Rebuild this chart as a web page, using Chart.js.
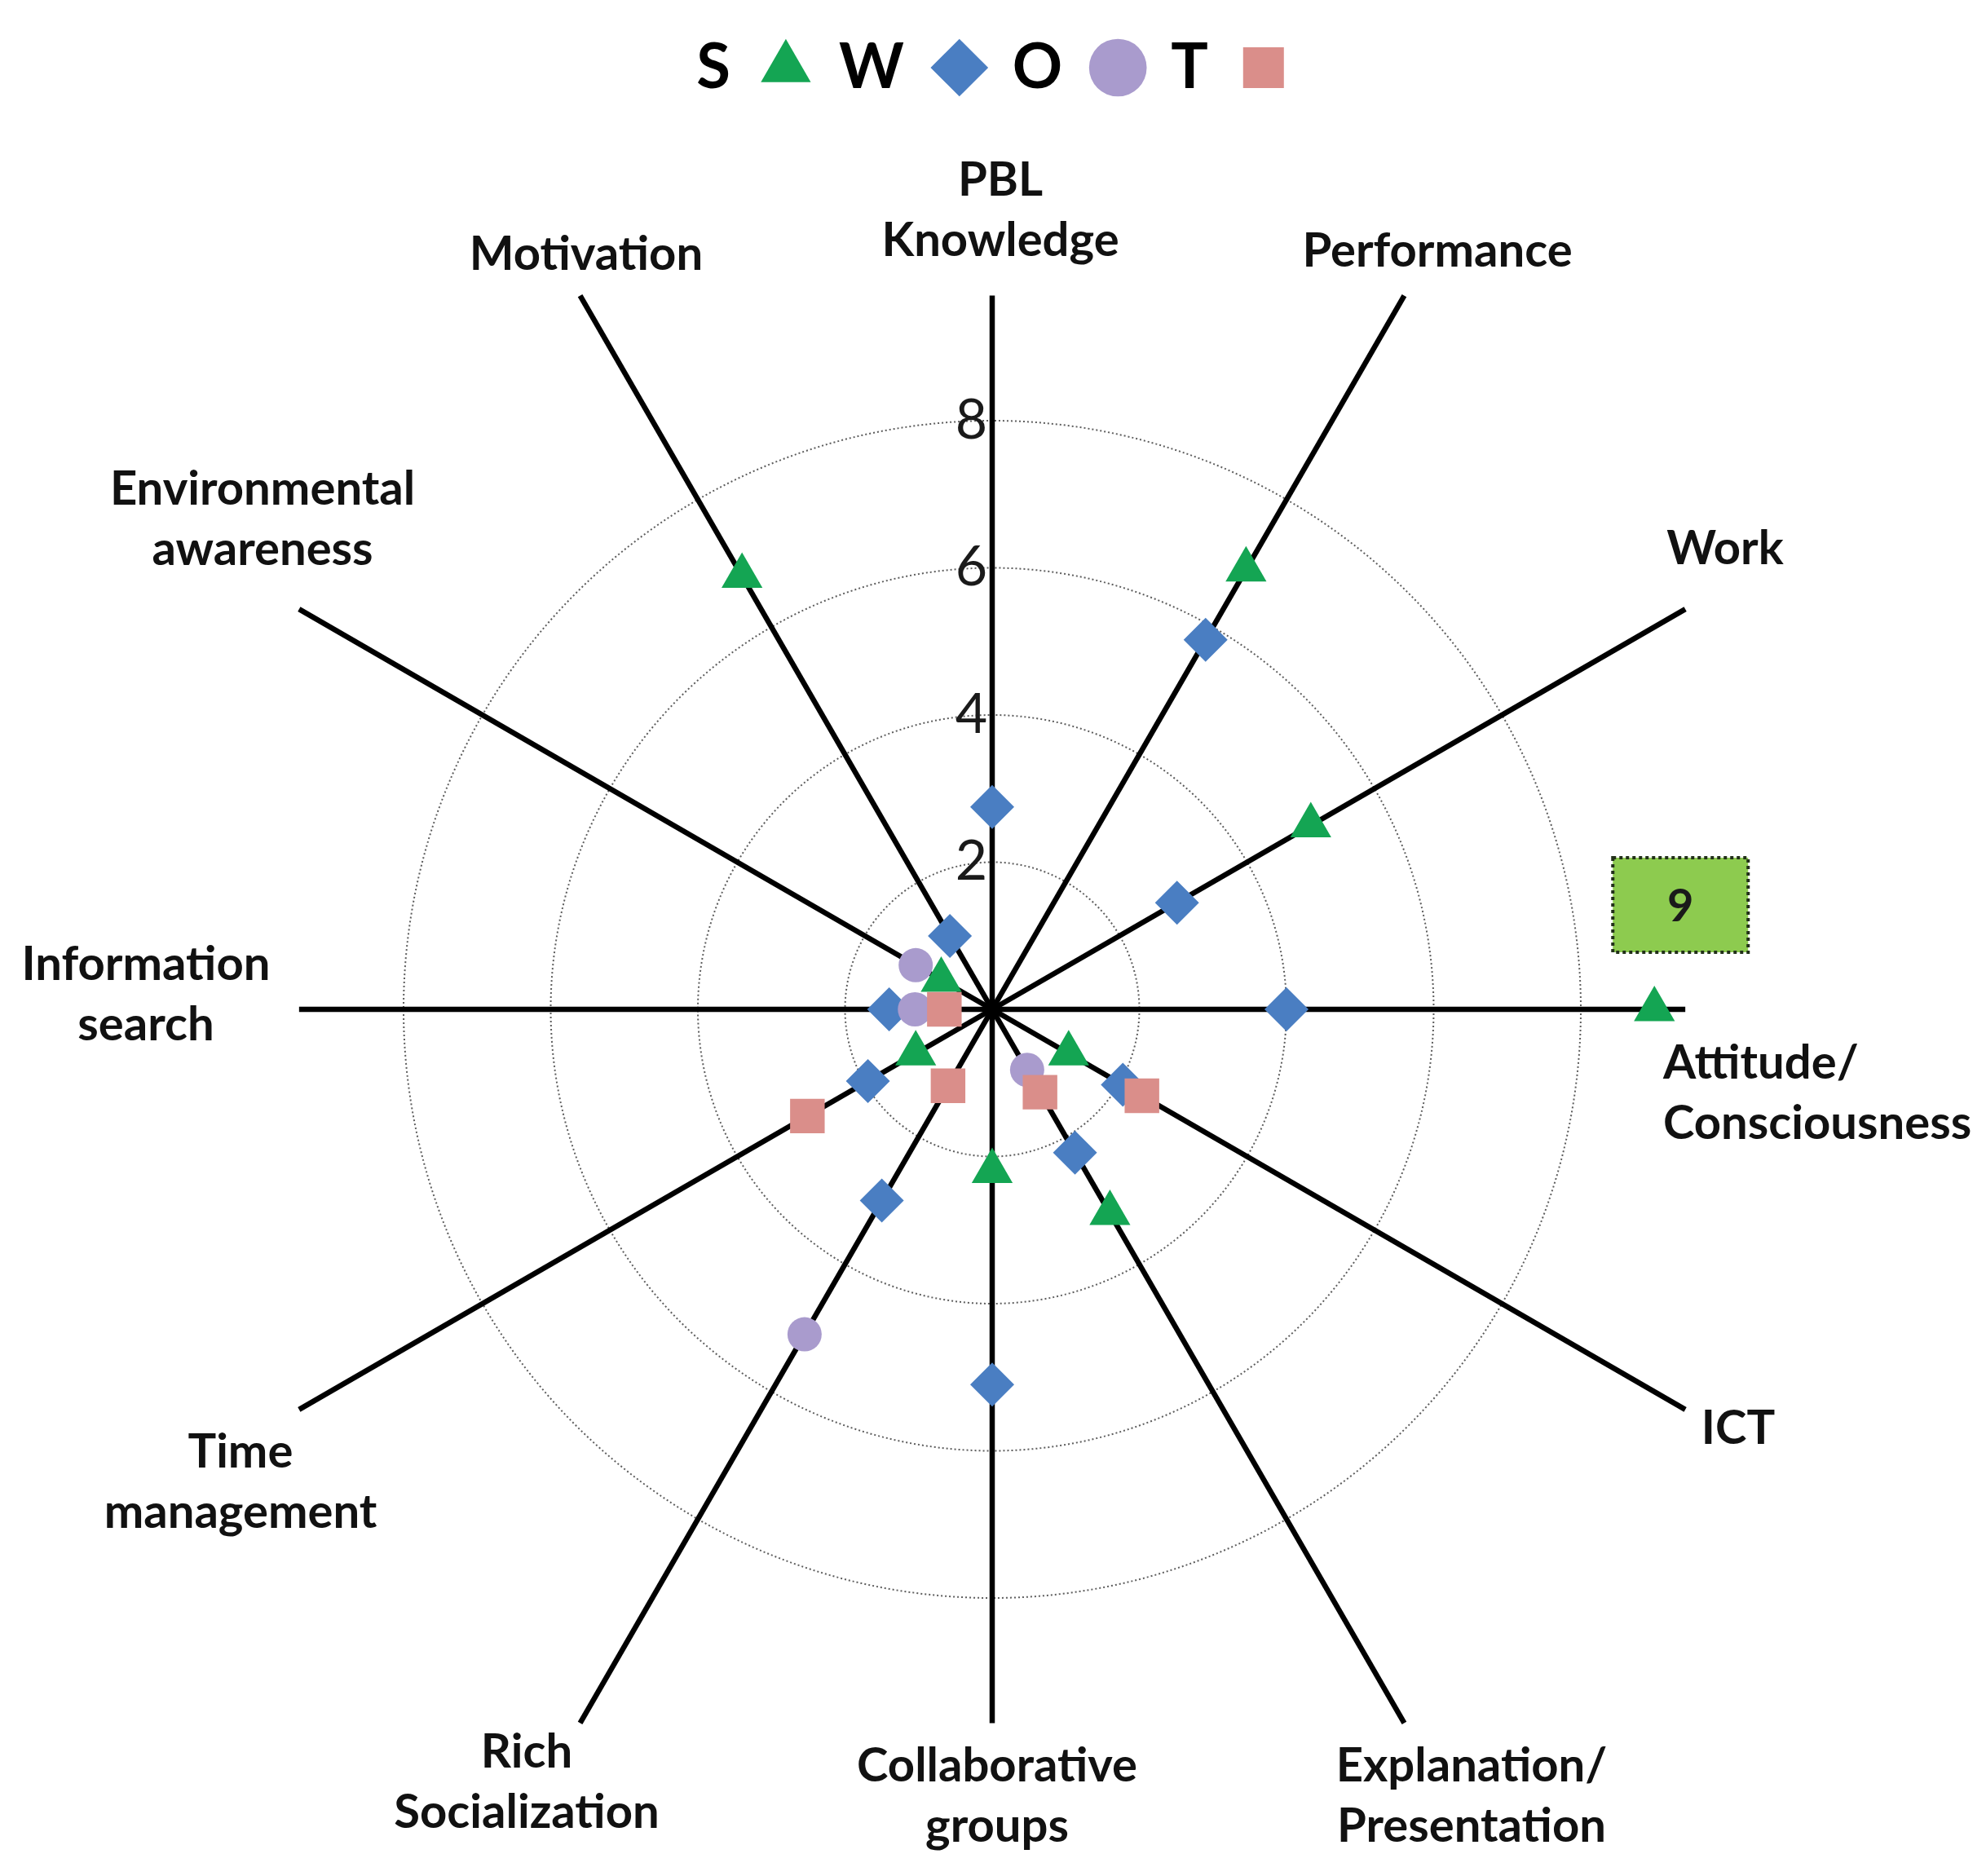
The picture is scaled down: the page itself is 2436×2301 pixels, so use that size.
<!DOCTYPE html>
<html lang="en">
<head>
<meta charset="utf-8">
<title>SWOT radar</title>
<script src="https://cdn.jsdelivr.net/npm/chart.js@4.4.1/dist/chart.umd.min.js"></script>
<style>
  html, body { margin: 0; padding: 0; background: #fff; }
  #wrap { width: 2436px; height: 2301px; position: relative; }
</style>
</head>
<body>
<div id="wrap"><canvas id="chart-swot"></canvas></div>
<script>
/* ============================================================
   SWOT radar — 12 axes, four marker-only series
   ============================================================ */

/* ── Data ──────────────────────────────────────────────── */
const AXES = [
  ['PBL', 'Knowledge'],
  ['Performance'],
  ['Work'],
  ['Attitude/', 'Consciousness'],
  ['ICT'],
  ['Explanation/', 'Presentation'],
  ['Collaborative', 'groups'],
  ['Rich', 'Socialization'],
  ['Time', 'management'],
  ['Information', 'search'],
  ['Environmental', 'awareness'],
  ['Motivation'],
];

const S_VALUES = [null, 6.9, 5.0, 9, 1.2, 3.2, 2.2, null, 1.2, null, 0.8, 6.8];
const W_VALUES = [2.75, 5.8, 2.9, 4.0, 2.05, 2.25, 5.1, 3.0, 1.95, 1.4, null, 1.15];
const O_VALUES = [null, null, null, null, null, 0.95, null, 5.1, null, 1.05, 1.2, null];
const T_VALUES = [null, null, null, null, 2.35, 1.3, null, 1.2, 2.9, 0.65, null, null];

const SCALE_MAX  = 8;
const SCALE_STEP = 2;

/* ── Layout bits (not data) ────────────────────────────── */
// axis titles: offset of the text block from the chart centre, text alignment
const TITLE_SPOTS = [
  [   10, -980, 'center'],
  [  546, -930, 'center'],
  [  899, -565, 'center'],
  [  823,  103, 'left'  ],
  [  915,  514, 'center'],
  [  588,  965, 'center'],
  [    6,  965, 'center'],
  [ -571,  948, 'center'],
  [ -922,  580, 'center'],
  [-1038,  -18, 'center'],
  [ -895, -601, 'center'],
  [ -498, -926, 'center'],
];
const TITLE_LINE_H = 74;

// the black spokes stop on a box this many scale units wide / tall (half sizes)
const SPOKE_REACH = { x: 9.42, y: 9.7 };

// callout with the value of S on Attitude/Consciousness
const CALLOUT = { series: 'S', index: 3, dx: 32, dy: -128, w: 166, h: 116 };

const COLORS = {
  S: '#14A553',
  W: '#4A7EC2',
  O: '#A99BCD',
  T: '#DA8E8A',
};

/* ── Plugins ───────────────────────────────────────────── */

// empty room under the legend so the plot sits where it should
const legendGapPlugin = {
  id: 'legendGap',
  beforeLayout(chart, _args, opts) {
    const legend = chart.legend;
    if (!legend || legend._gapPatched) return;
    const fit = legend.fit;
    legend.fit = function () { fit.call(this); this.height += opts.gap || 0; };
    legend._gapPatched = true;
  },
};

const spokesPlugin = {
  id: 'spokes',
  beforeDatasetsDraw(chart) {
    const r   = chart.scales.r;
    const ctx = chart.ctx;
    const halfW = r.getDistanceFromCenterForValue(SPOKE_REACH.x);
    const halfH = r.getDistanceFromCenterForValue(SPOKE_REACH.y);

    ctx.save();
    ctx.strokeStyle = '#000';
    ctx.lineWidth   = 6.5;
    AXES.forEach((_, i) => {
      const p  = r.getPointPosition(i, 1);
      const dx = p.x - r.xCenter;
      const dy = p.y - r.yCenter;
      const tx = Math.abs(dx) > 1e-6 ? halfW / Math.abs(dx) : Infinity;
      const ty = Math.abs(dy) > 1e-6 ? halfH / Math.abs(dy) : Infinity;
      const t  = Math.min(tx, ty);
      ctx.beginPath();
      ctx.moveTo(r.xCenter, r.yCenter);
      ctx.lineTo(r.xCenter + dx * t, r.yCenter + dy * t);
      ctx.stroke();
    });
    ctx.restore();
  },
};

const axisTitlesPlugin = {
  id: 'axisTitles',
  afterDatasetsDraw(chart) {
    const r   = chart.scales.r;
    const ctx = chart.ctx;
    ctx.save();
    ctx.font         = 'bold 58px Lato';
    ctx.fillStyle    = '#111';
    ctx.textBaseline = 'middle';
    AXES.forEach((lines, i) => {
      const [dx, dy, align] = TITLE_SPOTS[i];
      ctx.textAlign = align;
      const y0 = r.yCenter + dy - (lines.length - 1) * TITLE_LINE_H / 2;
      lines.forEach((ln, k) => ctx.fillText(ln, r.xCenter + dx, y0 + k * TITLE_LINE_H));
    });
    ctx.restore();
  },
};

const calloutPlugin = {
  id: 'callout',
  afterDatasetsDraw(chart) {
    const dsIndex = chart.data.datasets.findIndex(d => d.label === CALLOUT.series);
    if (dsIndex < 0) return;
    const el = chart.getDatasetMeta(dsIndex).data[CALLOUT.index];
    if (!el) return;
    const value = chart.data.datasets[dsIndex].data[CALLOUT.index];

    const cx = el.x + CALLOUT.dx;
    const cy = el.y + CALLOUT.dy;
    const ctx = chart.ctx;
    ctx.save();
    ctx.fillStyle = '#8DCB4F';
    ctx.fillRect(cx - CALLOUT.w / 2, cy - CALLOUT.h / 2, CALLOUT.w, CALLOUT.h);
    ctx.setLineDash([4, 4]);
    ctx.lineWidth   = 4;
    ctx.strokeStyle = '#22301a';
    ctx.strokeRect(cx - CALLOUT.w / 2, cy - CALLOUT.h / 2, CALLOUT.w, CALLOUT.h);
    ctx.setLineDash([]);
    ctx.fillStyle    = '#1a1a1a';
    ctx.font         = 'bold 56px Lato';
    ctx.textAlign    = 'center';
    ctx.textBaseline = 'middle';
    ctx.fillText(String(value), cx, cy + 2);
    ctx.restore();
  },
};

/* ── Datasets: T first so it is painted last (on top) ──── */
function _series(label, data, pointStyle, radius) {
  return {
    label,
    data,
    pointStyle,
    pointRadius:          radius,
    pointHoverRadius:     radius,
    pointBackgroundColor: COLORS[label],
    pointBorderColor:     COLORS[label],
    pointBorderWidth:     0,
    backgroundColor:      COLORS[label],
    borderColor:          COLORS[label],
    showLine:             false,
    fill:                 false,
    clip:                 false,
  };
}

const ctx = document.getElementById('chart-swot').getContext('2d');

new Chart(ctx, {
  type: 'radar',
  data: {
    labels: AXES.map(a => a.join(' ')),
    datasets: [
      _series('T', T_VALUES, 'rect',     30),
      _series('O', O_VALUES, 'circle',   21),
      _series('W', W_VALUES, 'rectRot',  27),
      _series('S', S_VALUES, 'triangle', 29),
    ],
  },
  options: {
    responsive:          true,
    maintainAspectRatio: false,
    devicePixelRatio:    1,
    animation:           false,
    events:              [],
    layout: {
      padding: { top: 10, left: 0, right: 2, bottom: 305 },
    },
    scales: {
      r: {
        min: 0,
        max: SCALE_MAX,
        startAngle: 0,
        angleLines:  { display: false },
        pointLabels: { display: false },
        grid:   { circular: true, color: '#5e5e5e', lineWidth: 2 },
        border: { dash: [2, 3] },
        ticks: {
          stepSize:          SCALE_STEP,
          showLabelBackdrop: false,
          color:             '#1a1a1a',
          font:              { family: 'Lato', size: 68 },
          callback:          v => (v === 0 ? '' : v + '\u2003'),
        },
      },
    },
    plugins: {
      tooltip:   { enabled: false },
      legendGap: { gap: 349 },
      legend: {
        position: 'top',
        rtl:      true,
        labels: {
          usePointStyle: true,
          boxWidth:      60,
          boxHeight:     50,
          padding:       35,
          color:         '#000',
          font:          { family: 'Lato', size: 76, weight: 'bold' },
        },
      },
    },
  },
  plugins: [legendGapPlugin, spokesPlugin, axisTitlesPlugin, calloutPlugin],
});
</script>
</body>
</html>
